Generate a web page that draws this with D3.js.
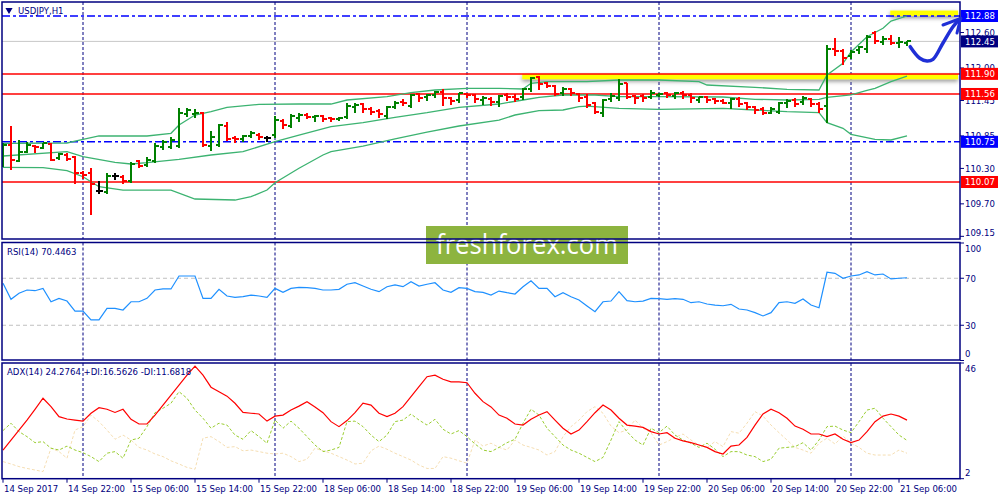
<!DOCTYPE html>
<html lang="en">
  <head>
    <meta charset="UTF-8" />
    <script src="https://d3js.org/d3.v7.min.js"></script>
    <title>USDJPY,H1</title>
    <style>
      body { margin: 0; background: #fff; }
      svg { display: block; }
      text { font-family: 'DejaVu Sans Condensed', 'DejaVu Sans', sans-serif; font-size: 9.5px; }
    </style>
  </head>
  <body>
    <div id="chart"></div>
    <script>
      // ---- data ----
      // hourly bars, 14 Sep 2017 14:00 .. 21 Sep 07:00
      const open = [
        110.476, 110.696, 110.430, 110.583, 110.679, 110.640, 110.713, 110.476, 110.527, 110.498,
        110.227, 110.217, 109.917, 109.906, 110.171, 110.159, 110.092, 110.425, 110.358, 110.425,
        110.657, 110.667, 110.679, 111.216, 111.221, 111.233, 110.679, 110.696, 111.018, 110.810,
        110.793, 110.849, 110.865, 110.810, 110.865, 111.108, 111.018, 111.148, 111.204, 111.175,
        111.187, 111.148, 111.131, 111.165, 111.334, 111.390, 111.301, 111.277, 111.187, 111.345,
        111.429, 111.356, 111.560, 111.504, 111.543, 111.598, 111.487, 111.458, 111.560, 111.543,
        111.458, 111.470, 111.429, 111.543, 111.504, 111.504, 111.639, 111.842, 111.741, 111.695,
        111.571, 111.639, 111.560, 111.504, 111.402, 111.243, 111.470, 111.487, 111.741, 111.526,
        111.526, 111.514, 111.543, 111.582, 111.526, 111.582, 111.543, 111.458, 111.504, 111.470,
        111.446, 111.402, 111.470, 111.402, 111.334, 111.301, 111.243, 111.260, 111.402, 111.458,
        111.429, 111.470, 111.390, 111.356, 112.316, 112.293, 112.203, 112.304, 112.316, 112.597,
        112.445, 112.486, 112.418, 112.428
      ]
      const high = [
        110.730, 111.018, 110.781, 110.752, 110.696, 110.735, 110.725, 110.556, 110.556, 110.510,
        110.256, 110.302, 110.092, 110.227, 110.227, 110.188, 110.413, 110.442, 110.498, 110.725,
        110.781, 110.826, 111.317, 111.328, 111.306, 111.260, 110.938, 111.052, 111.086, 110.849,
        110.865, 110.933, 110.894, 110.849, 111.187, 111.131, 111.221, 111.243, 111.233, 111.204,
        111.204, 111.165, 111.165, 111.402, 111.402, 111.412, 111.345, 111.301, 111.356, 111.446,
        111.470, 111.560, 111.571, 111.560, 111.615, 111.639, 111.514, 111.582, 111.582, 111.560,
        111.526, 111.514, 111.543, 111.582, 111.560, 111.656, 111.842, 111.864, 111.768, 111.712,
        111.673, 111.656, 111.582, 111.560, 111.429, 111.470, 111.571, 111.808, 111.741, 111.543,
        111.560, 111.627, 111.571, 111.598, 111.598, 111.615, 111.571, 111.514, 111.526, 111.487,
        111.470, 111.487, 111.504, 111.429, 111.356, 111.334, 111.334, 111.429, 111.470, 111.487,
        111.526, 111.487, 111.429, 112.389, 112.502, 112.316, 112.304, 112.372, 112.558, 112.631,
        112.541, 112.558, 112.519, 112.462
      ]
      const low = [
        110.341, 110.290, 110.430, 110.583, 110.583, 110.640, 110.442, 110.454, 110.442, 110.048,
        110.138, 109.523, 109.889, 109.889, 110.115, 110.058, 110.075, 110.329, 110.341, 110.413,
        110.623, 110.640, 110.657, 111.187, 111.170, 110.679, 110.612, 110.679, 110.781, 110.752,
        110.769, 110.826, 110.793, 110.769, 110.826, 110.979, 111.006, 111.108, 111.148, 111.108,
        111.108, 111.108, 111.119, 111.148, 111.260, 111.260, 111.221, 111.165, 111.148, 111.317,
        111.373, 111.334, 111.446, 111.458, 111.514, 111.373, 111.390, 111.429, 111.514, 111.429,
        111.390, 111.373, 111.356, 111.458, 111.446, 111.470, 111.615, 111.639, 111.673, 111.543,
        111.543, 111.543, 111.446, 111.345, 111.233, 111.187, 111.446, 111.458, 111.487, 111.402,
        111.446, 111.487, 111.526, 111.504, 111.487, 111.487, 111.429, 111.429, 111.429, 111.412,
        111.402, 111.317, 111.356, 111.301, 111.233, 111.221, 111.233, 111.233, 111.345, 111.356,
        111.390, 111.356, 111.260, 111.091, 112.220, 112.067, 112.164, 112.259, 112.276, 112.428,
        112.406, 112.406, 112.350, 112.389
      ]
      const close = [
        110.696, 110.442, 110.583, 110.696, 110.662, 110.735, 110.442, 110.539, 110.459, 110.217,
        110.188, 110.036, 109.917, 110.171, 110.171, 110.092, 110.375, 110.341, 110.442, 110.679,
        110.752, 110.781, 111.233, 111.289, 111.238, 110.696, 110.826, 111.035, 110.793, 110.793,
        110.849, 110.904, 110.826, 110.810, 111.119, 111.035, 111.187, 111.204, 111.175, 111.187,
        111.131, 111.131, 111.158, 111.356, 111.373, 111.301, 111.260, 111.221, 111.345, 111.412,
        111.402, 111.543, 111.487, 111.543, 111.598, 111.487, 111.446, 111.571, 111.543, 111.470,
        111.487, 111.429, 111.526, 111.504, 111.470, 111.639, 111.825, 111.729, 111.695, 111.560,
        111.639, 111.582, 111.487, 111.373, 111.260, 111.458, 111.526, 111.729, 111.504, 111.487,
        111.487, 111.582, 111.560, 111.543, 111.582, 111.543, 111.487, 111.504, 111.458, 111.446,
        111.412, 111.470, 111.390, 111.345, 111.289, 111.243, 111.301, 111.412, 111.446, 111.390,
        111.487, 111.390, 111.301, 112.316, 112.293, 112.164, 112.276, 112.350, 112.530, 112.462,
        112.486, 112.418, 112.445, 112.450
      ]

      // Bollinger bands, [bar, price]
      const bbUpper = [
        [0, 110.725], [8, 110.730], [10, 110.793], [12, 110.849], [18, 110.849], [21, 110.894],
        [22, 111.035], [24, 111.204], [26, 111.260], [28, 111.334], [32, 111.385], [37, 111.390],
        [41, 111.390], [43, 111.458], [48, 111.514], [51, 111.582], [54, 111.627], [58, 111.656],
        [62, 111.656], [65, 111.644], [66, 111.741], [68, 111.768], [73, 111.768], [77, 111.797],
        [82, 111.797], [87, 111.768], [88, 111.712], [94, 111.673], [98, 111.639], [102, 111.627],
        [103, 111.881], [105, 112.079], [106, 112.271], [108, 112.530], [110, 112.672],
        [111, 112.795], [113, 112.880]
      ]
      const bbMiddle = [
        [0, 110.510], [8, 110.583], [10, 110.498], [14, 110.403], [16, 110.375], [18, 110.397],
        [22, 110.454], [26, 110.527], [30, 110.583], [34, 110.752], [37, 110.865], [41, 111.006],
        [45, 111.074], [49, 111.165], [53, 111.243], [57, 111.334], [62, 111.390], [65, 111.458],
        [67, 111.504], [70, 111.543], [74, 111.543], [77, 111.514], [82, 111.514], [90, 111.509],
        [94, 111.470], [98, 111.458], [102, 111.470], [103, 111.504], [106, 111.543],
        [108, 111.619], [109, 111.656], [111, 111.768], [113, 111.864]
      ]
      const bbLower = [
        [0, 110.319], [5, 110.312], [8, 110.261], [10, 110.159], [12, 109.990], [15, 109.934],
        [21, 109.934], [24, 109.782], [29, 109.765], [31, 109.821], [33, 109.934], [34, 110.058],
        [37, 110.302], [40, 110.527], [41, 110.583], [45, 110.679], [49, 110.798], [53, 110.916],
        [57, 111.018], [62, 111.119], [64, 111.204], [67, 111.277], [70, 111.289], [72, 111.345],
        [73, 111.356], [77, 111.317], [82, 111.301], [90, 111.317], [94, 111.289], [98, 111.260],
        [102, 111.243], [103, 111.074], [105, 110.979], [106, 110.877], [109, 110.793],
        [111, 110.781], [113, 110.849]
      ]

      const rsi = [
        65.7, 52.1, 57.2, 60, 59.4, 61.4, 50, 52.9, 50.6, 42.1,
        42.1, 34.5, 34.5, 44.4, 44.4, 43, 50, 50, 52.9, 60,
        60.9, 60.9, 71.9, 71.9, 71.9, 52.9, 52.9, 60.6, 54.9, 53.8,
        54.3, 55.7, 54.9, 53.8, 61.4, 58, 61.4, 62.3, 62, 61.4,
        60, 60, 60.6, 64.9, 66.2, 63.4, 60.6, 58.6, 62.8, 64.3,
        62.8, 67.1, 63.4, 64.9, 66.2, 60, 58, 62, 61.4, 58.6,
        58, 55.7, 59.1, 57.7, 56.6, 62.8, 67.9, 61.4, 61.4, 54.3,
        57.7, 54.3, 51.5, 46.4, 41.5, 50, 50.6, 58.6, 50.9, 50,
        50.6, 52.9, 52.6, 52.1, 52.6, 52.1, 49.2, 50, 48.1, 47.2,
        46.6, 47.8, 43.8, 43, 40.7, 37.9, 40.7, 49.2, 50, 48.7,
        52.3, 47.2, 44.9, 75.1, 74.2, 70, 71.9, 72.8, 75.6, 72.8,
        73.6, 69.4, 70, 70.4463
      ]
      const adx = [
        12.9, 16.7, 20.5, 24.3, 28.4, 32.6, 29.4, 25.6, 24.7, 24.3,
        23.9, 26.9, 29, 28.4, 27.2, 28.4, 24.6, 22.8, 22.8, 26.2,
        30, 33.8, 37.6, 41.4, 44.8, 41.4, 36.8, 35.1, 33.4, 30.7,
        27.2, 26.9, 26.6, 23.9, 25.8, 26.2, 28.1, 29.6, 31.3, 29.3,
        27.1, 23.7, 21.8, 24.1, 27.1, 30.7, 30, 26.9, 25.6, 26.9,
        29.4, 33.2, 37, 40.8, 41.4, 39.8, 38.8, 38.8, 38.5, 34.5,
        31.3, 29.3, 26.2, 25, 22.8, 22.4, 24.6, 26.2, 27.5, 24.3,
        21.2, 19, 20.5, 23.7, 27.1, 30, 28.1, 25, 22.4, 22,
        21.5, 19.9, 19, 19.5, 17.4, 16.4, 15.7, 14.8, 13.9, 12.3,
        11.4, 14.4, 14.8, 17.7, 22.4, 26.6, 28.4, 27.1, 25, 22,
        20.8, 19, 19, 18, 19, 17, 15.7, 16.7, 19.9, 23.7,
        25.8, 26.6, 25.8, 24.2764
      ]
      const plusDI = [
        20.3, 23.1, 19.9, 18, 15.7, 16.1, 13.6, 12.9, 14.4, 12.9,
        11.9, 10.4, 8.5, 11.7, 12.3, 9.8, 16.7, 17.4, 21.8, 27.1,
        28.8, 30.7, 35.1, 32.6, 28.1, 25, 21.2, 23.1, 22.4, 18.6,
        17, 20.3, 18, 15.5, 24.3, 21.2, 23.9, 21.2, 18, 14.8,
        12.3, 12.9, 13.9, 23.7, 23.9, 21.8, 18.6, 16.1, 18.6, 23.7,
        24.3, 26.6, 24.3, 22.4, 24.6, 20.8, 19, 20.3, 18, 15.2,
        12.9, 12.3, 13.9, 15.7, 17, 23.1, 28.4, 26.2, 21.2, 18,
        14.8, 12.9, 11.7, 10.1, 8.5, 10.1, 16.7, 23.7, 19.9, 16.7,
        14.8, 21.2, 19.5, 22, 18.6, 16.7, 15.5, 13.9, 15.5, 13.2,
        10.4, 12.3, 12.3, 11, 10.4, 8.5, 9.4, 13.6, 13.9, 14.2,
        15.7, 12.9, 16.7, 21.8, 22, 20.5, 19.5, 23.7, 28.1, 28.8,
        25, 21.8, 18.6, 16.5626
      ]
      const minusDI = [
        8.5, 7.6, 6.6, 5.9, 5.3, 4.7, 13.6, 12.3, 9.8, 20.5,
        21.8, 26.2, 23.7, 20.5, 17, 18.6, 16.7, 13.9, 12.9, 11.4,
        10.4, 8.8, 7.6, 6.3, 5.6, 17.4, 18, 16.1, 13.9, 14.2,
        12.6, 12.9, 12.3, 11.7, 11.4, 11.7, 10.4, 8.5, 9.4, 13.6,
        12.6, 11.7, 10.4, 9.1, 7.6, 7.9, 12.6, 14.4, 13.2, 11.7,
        10.4, 9.1, 7.2, 5.9, 5.9, 10.4, 9.8, 8.8, 7.9, 16.7,
        14.4, 15.5, 13.9, 12.9, 16.7, 14.8, 13.9, 12.9, 11, 12.3,
        18, 21.8, 24.3, 27.5, 29.4, 26.9, 22, 19.5, 20.5, 24.3,
        21.2, 19.5, 14.8, 16.1, 17.7, 19, 16.7, 14.8, 13.9, 16.1,
        14.2, 19.9, 19.3, 23.1, 27.5, 25.8, 22.4, 19.5, 16.7, 13.9,
        12.9, 11.7, 15.5, 17.4, 15.2, 18.2, 15.5, 13.9, 11.7, 11,
        11, 11, 12.9, 11.6818
      ]

      const timeLabels = [
        '14 Sep 2017', '14 Sep 22:00', '15 Sep 06:00', '15 Sep 14:00', '15 Sep 22:00',
        '18 Sep 06:00', '18 Sep 14:00', '18 Sep 22:00', '19 Sep 06:00', '19 Sep 14:00',
        '19 Sep 22:00', '20 Sep 06:00', '20 Sep 14:00', '20 Sep 22:00', '21 Sep 06:00'
      ]
      const labelStep = 8 // bars between time labels
      const daySeparators = [10, 34, 58, 82, 106] // bars opening a new day

      const priceTicks = [112.6, 112.0, 111.45, 110.85, 110.3, 109.7, 109.15]
      const rsiTicks = [100, 70, 30, 0]
      const rsiLevels = [70, 30]
      const adxTicks = [46, 2]

      const supportLevels = [111.90, 111.56, 110.07] // red lines
      const dashLevels = [112.88, 110.75] // blue dash-dot lines
      const bid = 112.45
      // yellow marker zones: [from bar, level]
      const zones = [[64.9, 111.90], [110.9, 112.88]]
      // hand drawn arrow [bar, price]
      const arrowPath = [
        [113.4, 112.36], [114.6, 112.164], [115.5, 112.118], [116.25, 112.147],
        [117.5, 112.423], [118.75, 112.699], [119.7, 112.841]
      ]
      const arrowHead = [[117.5, 112.728], [119.7, 112.841], [119.25, 112.592]]

      // ---- layout ----
      const W = 1000, H = 500
      const left = 2, right = 960
      const main = { top: 2, bottom: 239 }
      const rsiP = { top: 242.5, bottom: 360 }
      const adxP = { top: 363, bottom: 478.7 }
      const navy = '#000080'

      const svg = d3.select('#chart').append('svg').attr('width', W).attr('height', H)

      const x = d3.scaleLinear().domain([0, 113]).range([3, 907])
      const yMain = d3.scaleLinear().domain([109.105, 113.117]).range([main.bottom, main.top])
      const yRsi = d3.scaleLinear().domain([0, 100]).range([360.5, 243])
      const yAdx = d3.scaleLinear().domain([2, 46]).range([adxP.bottom, adxP.top])

      const defs = svg.append('defs')
      const clipFor = (id, p) =>
        defs.append('clipPath').attr('id', id).append('rect')
          .attr('x', left).attr('y', p.top).attr('width', right - left).attr('height', p.bottom - p.top)
      clipFor('clipMain', main)
      clipFor('clipRsi', rsiP)
      clipFor('clipAdx', adxP)
      defs.append('filter').attr('id', 'shadow').attr('x', '-5%').attr('y', '-100%')
        .attr('width', '110%').attr('height', '400%')
        .append('feDropShadow').attr('dx', 0).attr('dy', 2).attr('stdDeviation', 2)
        .attr('flood-color', '#777').attr('flood-opacity', 0.8)

      // day separators in all panels
      ;[main, rsiP, adxP].forEach(p => {
        svg.append('g').selectAll('line').data(daySeparators).join('line')
          .attr('x1', d => x(d)).attr('x2', d => x(d))
          .attr('y1', p.top).attr('y2', p.bottom)
          .attr('stroke', navy).attr('stroke-width', 1).attr('stroke-dasharray', '3,2')
      })

      // ---- main panel ----
      const gm = svg.append('g').attr('clip-path', 'url(#clipMain)')

      // yellow marker zones
      gm.append('g').selectAll('rect').data(zones).join('rect')
        .attr('x', d => x(d[0])).attr('width', d => right - 2 - x(d[0]))
        .attr('y', (d, i) => i === 0 ? yMain(d[1]) : yMain(d[1]) - 5.5)
        .attr('height', 5.5)
        .attr('fill', '#ffff00').attr('filter', 'url(#shadow)')

      gm.append('line')
        .attr('x1', left).attr('x2', right).attr('y1', yMain(bid)).attr('y2', yMain(bid))
        .attr('stroke', '#c8c8c8').attr('stroke-width', 1)

      gm.append('g').selectAll('line').data(supportLevels).join('line')
        .attr('x1', left).attr('x2', right).attr('y1', d => yMain(d)).attr('y2', d => yMain(d))
        .attr('stroke', '#ff0000').attr('stroke-width', 1.5)

      gm.append('g').selectAll('line').data(dashLevels).join('line')
        .attr('x1', left).attr('x2', right).attr('y1', d => yMain(d)).attr('y2', d => yMain(d))
        .attr('stroke', '#0000ff').attr('stroke-width', 1.5).attr('stroke-dasharray', '8,3,3,3')

      // bollinger bands
      const bbLine = d3.line().x(d => x(d[0])).y(d => yMain(d[1]))
      ;[bbUpper, bbMiddle, bbLower].forEach(band => {
        gm.append('path').datum(band).attr('d', bbLine)
          .attr('fill', 'none').attr('stroke', '#3cb371').attr('stroke-width', 1.3)
      })

      // OHLC bars
      const barColor = i => close[i] > open[i] ? '#008000' : close[i] < open[i] ? '#ff0000' : '#000000'
      const bars = gm.append('g').attr('shape-rendering', 'crispEdges')
        .selectAll('g').data(d3.range(open.length)).join('g')
        .attr('stroke', barColor).attr('stroke-width', 2)
      bars.append('line')
        .attr('x1', i => x(i)).attr('x2', i => x(i))
        .attr('y1', i => yMain(high[i])).attr('y2', i => yMain(low[i]) + 1)
      bars.append('line')
        .attr('x1', i => x(i) - 3).attr('x2', i => x(i))
        .attr('y1', i => yMain(open[i])).attr('y2', i => yMain(open[i]))
      bars.append('line')
        .attr('x1', i => x(i)).attr('x2', i => x(i) + 4)
        .attr('y1', i => yMain(close[i])).attr('y2', i => yMain(close[i]))

      // watermark
      svg.append('rect').attr('x', 426).attr('y', 226).attr('width', 202).attr('height', 38)
        .attr('fill', '#8db43f')
      svg.append('text').attr('x', 436).attr('y', 254)
        .attr('textLength', 182).attr('lengthAdjust', 'spacingAndGlyphs')
        .style('font-family', "'Open Sans', sans-serif").style('font-size', '27px')
        .attr('fill', '#fff').text('freshforex.com')

      // ---- RSI panel ----
      const gr = svg.append('g').attr('clip-path', 'url(#clipRsi)')
      gr.append('g').selectAll('line').data(rsiLevels).join('line')
        .attr('x1', left).attr('x2', right).attr('y1', d => yRsi(d)).attr('y2', d => yRsi(d))
        .attr('stroke', '#c0c0c0').attr('stroke-width', 1).attr('stroke-dasharray', '4,3')
      gr.append('path').datum(rsi)
        .attr('d', d3.line().x((d, i) => x(i)).y(d => yRsi(d)))
        .attr('fill', 'none').attr('stroke', '#1e90ff').attr('stroke-width', 1.2)

      // ---- ADX panel ----
      const ga = svg.append('g').attr('clip-path', 'url(#clipAdx)')
      const adxLine = d3.line().x((d, i) => x(i)).y(d => yAdx(d))
      ga.append('path').datum(minusDI).attr('d', adxLine)
        .attr('fill', 'none').attr('stroke', '#f5deb3').attr('stroke-width', 1).attr('stroke-dasharray', '3,2')
      ga.append('path').datum(plusDI).attr('d', adxLine)
        .attr('fill', 'none').attr('stroke', '#9acd32').attr('stroke-width', 1).attr('stroke-dasharray', '3,2')
      ga.append('path').datum(adx).attr('d', adxLine)
        .attr('fill', 'none').attr('stroke', '#ff0000').attr('stroke-width', 1.2)

      // ---- frames ----
      ;[main, rsiP, adxP].forEach(p => {
        svg.append('rect').attr('x', left).attr('y', p.top)
          .attr('width', right - left).attr('height', p.bottom - p.top)
          .attr('fill', 'none').attr('stroke', navy).attr('stroke-width', 1.5)
      })

      // panel titles
      svg.append('path').attr('d', d3.symbol(d3.symbolTriangle, 22)())
        .attr('transform', 'translate(9,10) rotate(180)').attr('fill', navy)
      svg.append('text').attr('x', 18).attr('y', 14).attr('fill', navy).text('USDJPY,H1')
      svg.append('text').attr('x', 7).attr('y', 255).attr('fill', navy)
        .text('RSI(14) ' + rsi[rsi.length - 1].toFixed(4))
      svg.append('text').attr('x', 7).attr('y', 375).attr('fill', navy)
        .text('ADX(14) ' + adx[adx.length - 1].toFixed(4) + ' +DI:' + plusDI[plusDI.length - 1].toFixed(4) +
          ' -DI:' + minusDI[minusDI.length - 1].toFixed(4))

      // ---- right axes ----
      const rightAxis = (ticks, scale, p, fmt) => {
        const clamp = v => Math.max(p.top + 6, Math.min(p.bottom - 6, scale(v)))
        const g = svg.append('g')
        g.selectAll('line').data(ticks).join('line')
          .attr('x1', right).attr('x2', right + 4).attr('y1', d => scale(d)).attr('y2', d => scale(d))
          .attr('stroke', navy)
        g.selectAll('text').data(ticks).join('text')
          .attr('x', right + 5).attr('y', d => clamp(d)).attr('dy', '0.35em')
          .attr('fill', navy).text(fmt)
      }
      rightAxis(priceTicks, yMain, main, d => d.toFixed(2))
      rightAxis(rsiTicks, yRsi, rsiP, d => d)
      rightAxis(adxTicks, yAdx, adxP, d => d)

      // price marker boxes
      const boxes = [
        ...dashLevels.map(v => ({ v, c: '#0000ff' })),
        { v: bid, c: '#000080' },
        ...supportLevels.map(v => ({ v, c: '#ff0000' }))
      ]
      const bx = svg.append('g').selectAll('g').data(boxes).join('g')
        .attr('transform', d => `translate(${right + 1},${yMain(d.v)})`)
      bx.append('rect').attr('x', 0).attr('y', -6).attr('width', 37).attr('height', 12).attr('fill', d => d.c)
      bx.append('text').attr('x', 4).attr('dy', '0.35em').attr('fill', '#fff').text(d => d.v.toFixed(2))

      // ---- time axis ----
      const labelIdx = timeLabels.map((t, k) => k * labelStep)
      const gt = svg.append('g')
      gt.selectAll('line').data(labelIdx).join('line')
        .attr('x1', d => x(d)).attr('x2', d => x(d)).attr('y1', adxP.bottom).attr('y2', adxP.bottom + 4)
        .attr('stroke', navy)
      gt.selectAll('text').data(timeLabels).join('text')
        .attr('x', (d, k) => x(labelIdx[k]) + 1).attr('y', 492)
        .attr('fill', navy).text(d => d)

      // ---- hand drawn arrow ----
      const arrowLine = d3.line().x(d => x(d[0])).y(d => yMain(d[1])).curve(d3.curveCatmullRom)
      svg.append('path').datum(arrowPath).attr('d', arrowLine)
        .attr('fill', 'none').attr('stroke', '#1f2fd6').attr('stroke-width', 3.5).attr('stroke-linecap', 'round')
      svg.append('path').datum(arrowHead).attr('d', d3.line().x(d => x(d[0])).y(d => yMain(d[1])))
        .attr('fill', 'none').attr('stroke', '#1f2fd6').attr('stroke-width', 3)
        .attr('stroke-linecap', 'round').attr('stroke-linejoin', 'round')
    </script>
  </body>
</html>
